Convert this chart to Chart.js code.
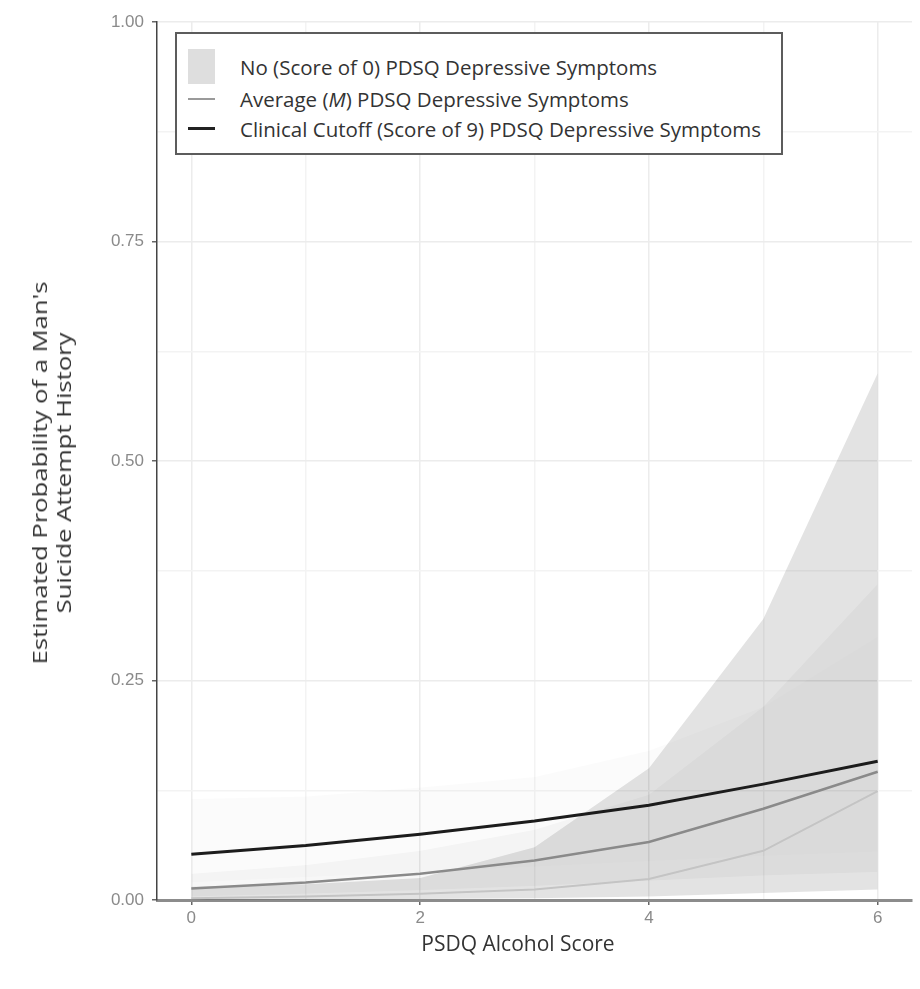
<!DOCTYPE html>
<html>
<head>
<meta charset="utf-8">
<script src="https://cdn.jsdelivr.net/npm/chart.js@4.4.1/dist/chart.umd.min.js"></script>
<style>
  body { margin: 0; background: #fff; }
  #wrap { position: relative; width: 920px; height: 989px; }
  #legend {
    position: absolute; left: 175px; top: 32px; width: 608px; height: 123px;
    box-sizing: border-box; border: 2px solid #5c5c5c; background: #fff;
    font-family: 'Open Sans', sans-serif; font-size: 20.5px; color: #333;
  }
  #legend .txt { position: absolute; left: 63px; height: 24px; line-height: 24px; white-space: nowrap; }
  #legend .key { position: absolute; left: 11px; width: 27px; }
  #ytitle {
    position: absolute; left: 52px; top: 473px;
    transform: translate(-50%, -50%) rotate(-90deg) scaleX(1.28);
    font-family: 'Open Sans', sans-serif; font-size: 20px; line-height: 24px;
    text-align: center; white-space: nowrap; color: #333;
  }
  #xtitle {
    position: absolute; left: 518px; top: 943px; transform: translate(-50%, -50%);
    font-family: 'Open Sans', sans-serif; font-size: 21px; white-space: nowrap; color: #333;
  }
</style>
</head>
<body>
<div id="wrap">
  <canvas id="chart" width="920" height="989"></canvas>
  <div id="legend">
    <div class="key" style="top:15px;height:35px;background:#dedede"></div>
    <div class="txt" style="top:21px">No (Score of 0) PDSQ Depressive Symptoms</div>
    <div class="key" style="top:64px;height:2px;background:#9a9a9a"></div>
    <div class="txt" style="top:53px">Average (<i>M</i>) PDSQ Depressive Symptoms</div>
    <div class="key" style="top:93px;height:3px;background:#222"></div>
    <div class="txt" style="top:83px">Clinical Cutoff (Score of 9) PDSQ Depressive Symptoms</div>
  </div>
  <div id="ytitle">Estimated Probability of a Man's<br>Suicide Attempt History</div>
  <div id="xtitle">PSDQ Alcohol Score</div>
</div>
<script>
// PSDQ alcohol score on the x axis
const scores = [0, 1, 2, 3, 4, 5, 6]

// no depressive symptoms (score 0)
const noneFit  = [0.002, 0.004, 0.007, 0.012, 0.024, 0.056, 0.124]
const noneLow  = [0.000, 0.000, 0.001, 0.002, 0.004, 0.008, 0.012]
const noneHigh = [0.015, 0.018, 0.025, 0.060, 0.150, 0.320, 0.600]

// average depressive symptoms
const avgFit  = [0.013, 0.020, 0.030, 0.045, 0.066, 0.104, 0.146]
const avgLow  = [0.004, 0.007, 0.011, 0.016, 0.022, 0.028, 0.032]
const avgHigh = [0.030, 0.040, 0.056, 0.080, 0.120, 0.220, 0.360]

// clinical cutoff (score 9)
const clinFit  = [0.052, 0.062, 0.075, 0.090, 0.108, 0.132, 0.158]
const clinLow  = [0.020, 0.026, 0.032, 0.038, 0.044, 0.050, 0.055]
const clinHigh = [0.115, 0.118, 0.128, 0.140, 0.170, 0.220, 0.300]

const xTicks = [0, 1, 2, 3, 4, 5, 6]
const xLabels = [0, 2, 4, 6]
const yTicks = [0, 0.125, 0.25, 0.375, 0.5, 0.625, 0.75, 0.875, 1]
const yLabels = [0, 0.25, 0.5, 0.75, 1]

function pts(arr) {
    return scores.map((x, i) => ({x: x, y: arr[i]}))
}

function band(arr, fillColor) {
    return {
        data: pts(arr), borderWidth: 0, pointRadius: 0, tension: 0,
        fill: fillColor ? '-1' : false,
        backgroundColor: fillColor || 'transparent', order: 2
    }
}

function line(arr, color, width) {
    return {
        data: pts(arr), borderColor: color, borderWidth: width,
        pointRadius: 0, tension: 0, fill: false, order: 0
    }
}

const isMajor = (list, v) => list.some(l => Math.abs(l - v) < 1e-9)

const chart = new Chart(document.getElementById('chart'), {
    type: 'line',
    data: {
        datasets: [
            band(noneLow), band(noneHigh, 'rgba(0,0,0,0.11)'),
            band(avgLow), band(avgHigh, 'rgba(0,0,0,0.03)'),
            band(clinLow), band(clinHigh, 'rgba(0,0,0,0.017)'),
            line(noneFit, '#c4c4c4', 2),
            line(avgFit, '#8a8a8a', 2.5),
            line(clinFit, '#1c1c1c', 3)
        ]
    },
    options: {
        responsive: false,
        animation: false,
        layout: { padding: { left: 0, right: 8, top: 22, bottom: 0 } },
        plugins: { legend: { display: false }, tooltip: { enabled: false } },
        scales: {
            x: {
                type: 'linear', min: -0.3, max: 6.3,
                afterBuildTicks: s => { s.ticks = xTicks.map(v => ({value: v})) },
                afterFit: s => { s.height = 89 },
                border: { display: true, color: '#8c8c8c', width: 3 },
                grid: {
                    color: c => isMajor(xLabels, c.tick.value) ? '#ececec' : '#f3f3f3',
                    tickColor: c => isMajor(xLabels, c.tick.value) ? '#666' : 'transparent',
                    tickLength: 5, lineWidth: 1.5
                },
                ticks: {
                    color: '#8a8a8a', padding: 3,
                    font: { family: 'Liberation Sans', size: 17 },
                    callback: v => isMajor(xLabels, v) ? String(v) : ''
                }
            },
            y: {
                min: 0, max: 1,
                afterBuildTicks: s => { s.ticks = yTicks.map(v => ({value: v})) },
                afterFit: s => { s.width = 157 },
                border: { display: true, color: '#444', width: 1.5 },
                grid: {
                    color: c => isMajor(yLabels, c.tick.value) ? '#ececec' : '#f3f3f3',
                    tickColor: c => isMajor(yLabels, c.tick.value) ? '#666' : 'transparent',
                    tickLength: 5, lineWidth: 1.5
                },
                ticks: {
                    color: '#8a8a8a', padding: 8,
                    font: { family: 'Liberation Sans', size: 17 },
                    callback: v => isMajor(yLabels, v) ? v.toFixed(2) : ''
                }
            }
        }
    }
})
</script>
</body>
</html>
